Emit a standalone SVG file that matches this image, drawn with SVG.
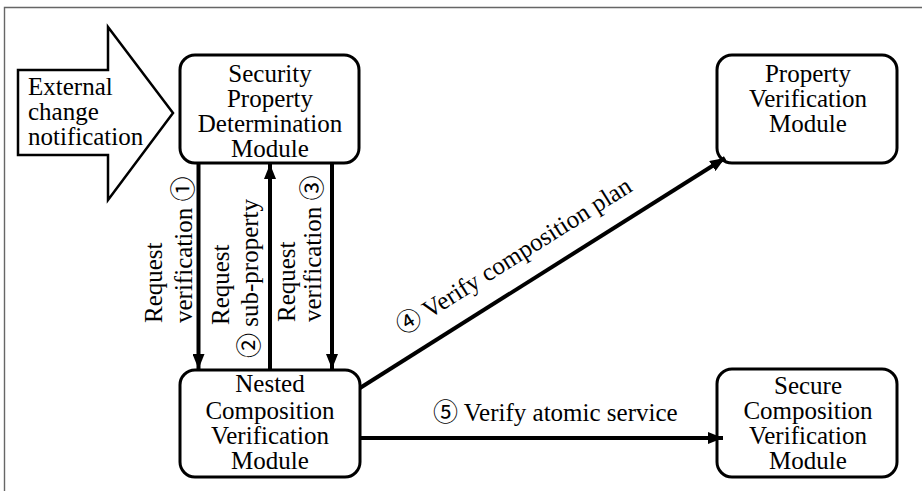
<svg xmlns="http://www.w3.org/2000/svg" width="922" height="491" viewBox="0 0 922 491">
<style>
  text { font-family: "Liberation Serif", "Times New Roman", "DejaVu Serif", serif; font-size: 25px; fill: #000; }
  .c { text-anchor: middle; }
  .n { font-family: "Noto Sans CJK JP", "Noto Sans CJK SC", "DejaVu Sans", sans-serif; font-weight: 400; }
  .box { fill: #fff; stroke: #000; stroke-width: 3; }
  .conn { fill: none; stroke: #000; stroke-width: 4; }
  .frame { fill: none; stroke: #666; stroke-width: 1.4; }
</style>
<defs>
  <marker id="ah" markerUnits="userSpaceOnUse" markerWidth="16" markerHeight="12" refX="15" refY="6" orient="auto">
    <path d="M0,0 L15,6 L0,12 Z" fill="#000"/>
  </marker>
</defs>
<rect x="0" y="0" width="922" height="491" fill="#fff"/>
<path class="frame" d="M4.5,491 L4.5,7.5 L922,7.5"/>

<g id="external">
  <polygon points="18,70 108,70 108,27 173,113 108,200 108,155 18,155" fill="#fff" stroke="#000" stroke-width="2.5" stroke-linejoin="miter"/>
  <text x="28" y="95">External</text>
  <text x="28" y="120">change</text>
  <text x="28" y="145">notification</text>
</g>

<g id="spdm">
  <rect class="box" x="180" y="55" width="179" height="108" rx="15" ry="15"/>
  <text class="c" x="270" y="82">Security</text>
  <text class="c" x="270" y="107">Property</text>
  <text class="c" x="270" y="132">Determination</text>
  <text class="c" x="270" y="157">Module</text>
</g>

<g id="pvm">
  <rect class="box" x="717" y="55" width="180" height="108" rx="15" ry="15"/>
  <text class="c" x="808" y="82">Property</text>
  <text class="c" x="808" y="107">Verification</text>
  <text class="c" x="808" y="131.5">Module</text>
</g>

<g id="ncvm">
  <rect class="box" x="180" y="370" width="180" height="107" rx="15" ry="15"/>
  <text class="c" x="270" y="392">Nested</text>
  <text class="c" x="270" y="418.5">Composition</text>
  <text class="c" x="270" y="444">Verification</text>
  <text class="c" x="270" y="468.5">Module</text>
</g>

<g id="scvm">
  <rect class="box" x="717" y="369" width="180" height="108" rx="15" ry="15"/>
  <text class="c" x="808" y="393.5">Secure</text>
  <text class="c" x="808" y="419">Composition</text>
  <text class="c" x="808" y="444">Verification</text>
  <text class="c" x="808" y="468.5">Module</text>
</g>

<g id="connectors">
  <line class="conn" x1="198.5" y1="163" x2="198.5" y2="369" marker-end="url(#ah)"/>
  <line class="conn" x1="270" y1="370" x2="270" y2="164" marker-end="url(#ah)"/>
  <line class="conn" x1="332" y1="163" x2="332" y2="369" marker-end="url(#ah)"/>
  <line class="conn" x1="360" y1="388" x2="725" y2="158" marker-end="url(#ah)"/>
  <line class="conn" x1="360" y1="438" x2="723" y2="438" marker-end="url(#ah)"/>

  <g transform="translate(162,323) rotate(-90)"><text x="0" y="0">Request</text></g>
  <g transform="translate(192,323) rotate(-90)"><text x="0" y="0">verification <tspan class="n">①</tspan></text></g>

  <g transform="translate(229,325) rotate(-90)"><text x="0" y="0">Request</text></g>
  <g transform="translate(258,358) rotate(-90)"><text x="0" y="0"><tspan class="n">②</tspan> sub-property</text></g>

  <g transform="translate(295,322) rotate(-90)"><text x="0" y="0">Request</text></g>
  <g transform="translate(321,322) rotate(-90)"><text x="0" y="0">verification <tspan class="n">③</tspan></text></g>

  <g transform="translate(403,335.5) rotate(-32.2)"><text x="0" y="0"><tspan class="n">④</tspan> Verify composition plan</text></g>
  <text x="433" y="421"><tspan class="n">⑤</tspan> Verify atomic service</text>
</g>
</svg>
